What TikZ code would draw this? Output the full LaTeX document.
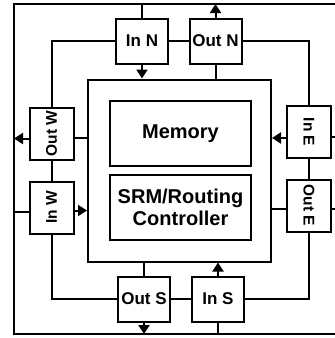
\documentclass[tikz,border=0pt]{standalone}
\usepackage{fontspec}
\usepackage{graphicx}
\setmainfont{Liberation Sans}
\usetikzlibrary{arrows.meta}
\begin{document}
\begin{tikzpicture}[x=1pt,y=-1pt,line width=2pt,
  box/.style={draw, fill=white, inner sep=0pt, font=\fontsize{17}{17}\selectfont\bfseries},
  hbox/.style={box, minimum width=52pt, minimum height=45pt},
  vbox/.style={box, minimum width=44pt, minimum height=52pt, font=\fontsize{15.5}{15.5}\selectfont\bfseries},
  bigbox/.style={draw, inner sep=0pt, minimum width=141pt, minimum height=65pt, align=center,
    font=\fontsize{20}{22.5}\selectfont\bfseries},
  arr/.style={-{Triangle[length=9pt,width=11pt]}}]
\useasboundingbox (0,0) rectangle (335,338);
% frame corners
\coordinate (TL) at (14,4);
\coordinate (TR) at (340,4);
\coordinate (BL) at (14,334);
\coordinate (BR) at (340,334);
\draw (TR) -- (TL) -- (BL) -- (BR);
% inner box
\node[draw, inner sep=0pt, minimum width=183pt, minimum height=182pt] (inner) at (179.5,170.5) {};
\node[bigbox] (mem) at (180.5,133.5) {Memory};
\node[bigbox] (srm) at (180.5,207.5) {SRM/Routing\\Controller};
% port boxes
\node[hbox] (InN) at (142,41) {In N};
\node[hbox] (OutN) at (215.5,41) {Out N};
\node[hbox] (OutS) at (144,299) {Out S};
\node[hbox] (InS) at (218,299) {In S};
\node[vbox] (OutW) at (51.5,133.5) {\rotatebox{90}{Out W}};
\node[vbox] (InW) at (51.5,207.5) {\rotatebox{90}{In W}};
\node[vbox] (InE) at (309,132) {\rotatebox{-90}{In E}};
\node[vbox] (OutE) at (309,205.5) {\rotatebox{-90}{Out E}};
% north
\draw (InN.north) -- (InN.north |- TL);
\draw[arr] (OutN.north) -- (OutN.north |- TL);
\draw[arr] (InN.south) -- (InN.south |- inner.north);
\draw (OutN.south) -- (OutN.south |- inner.north);
\draw (InN.east) -- (OutN.west);
\draw (InN.west) -| (OutW.north);
\draw (OutN.east) -| (InE.north);
% west
\draw[arr] ([yshift=-5pt]OutW.west) -- ([yshift=-5pt]OutW.west -| TL);
\draw ([yshift=-4pt]OutW.east) -- ([yshift=-4pt]OutW.east -| inner.west);
\draw (OutW.south) -- (InW.north);
\draw ([yshift=-4pt]InW.west) -- ([yshift=-4pt]InW.west -| TL);
\draw[arr] ([yshift=-3pt]InW.east) -- ([yshift=-3pt]InW.east -| inner.west);
\draw (InW.south) |- (OutS.west);
% south
\draw (OutS.east) -- (InS.west);
\draw (OutS.north) -- (OutS.north |- inner.south);
\draw[arr] (OutS.south) -- (OutS.south |- BL);
\draw[arr] (InS.north) -- (InS.north |- inner.south);
\draw (InS.south) -- (InS.south |- BL);
\draw (InS.east) -| (OutE.south);
% east
\draw (InE.south) -- (OutE.north);
\draw[arr] ([yshift=-6pt]InE.west) -- ([yshift=-6pt]InE.west -| inner.east);
\draw ([yshift=-3pt]OutE.west) -- ([yshift=-3pt]OutE.west -| inner.east);
\draw ([yshift=-5pt]InE.east) -- ([yshift=-5pt]InE.east -| TR);
\draw ([yshift=-3pt]OutE.east) -- ([yshift=-3pt]OutE.east -| TR);
\end{tikzpicture}
\end{document}
